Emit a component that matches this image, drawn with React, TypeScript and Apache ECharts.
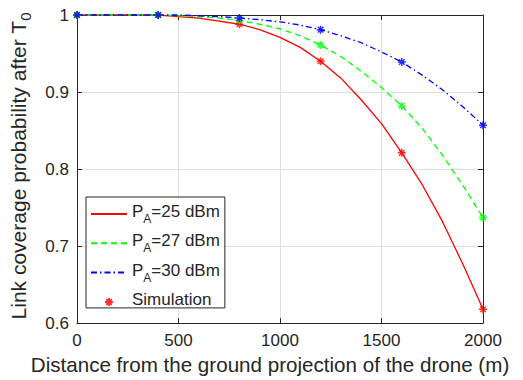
import React, { useEffect, useRef } from "react";
import * as echarts from "echarts";

const distances = [0, 100, 200, 300, 400, 500, 600, 700, 800, 900, 1000, 1100, 1200, 1300, 1400, 1500, 1600, 1700, 1800, 1900, 2000];
const pa25 = [1, 1, 1, 1, 0.9998, 0.998, 0.996, 0.992, 0.988, 0.981, 0.971, 0.958, 0.94, 0.918, 0.89, 0.859, 0.821, 0.78, 0.732, 0.677, 0.618];
const pa27 = [1, 1, 1, 1, 1, 0.999, 0.998, 0.996, 0.993, 0.988, 0.982, 0.973, 0.961, 0.946, 0.927, 0.906, 0.882, 0.853, 0.818, 0.779, 0.737];
const pa30 = [1, 1, 1, 1, 1, 1, 0.999, 0.998, 0.996, 0.994, 0.991, 0.987, 0.981, 0.973, 0.964, 0.952, 0.939, 0.922, 0.903, 0.881, 0.857];

const simDistances = [0, 400, 800, 1200, 1600, 2000];
const sim25 = [1, 1, 0.988, 0.94, 0.821, 0.618];
const sim27 = [1, 1, 0.993, 0.961, 0.882, 0.737];
const sim30 = [1, 1, 0.996, 0.981, 0.939, 0.857];

const xTicks = { min: 0, max: 2000, interval: 500 };
const yTicks = { min: 0.6, max: 1, interval: 0.1 };

const RED = "#ff0000";
const GREEN = "#00ff00";
const BLUE = "#0000ff";
const AXIS = "#262626";
const FONT = "'Liberation Sans', Arial, sans-serif";

const ASTERISK = "path://M0 5 L10 5 M5 0 L5 10 M1.5 1.5 L8.5 8.5 M8.5 1.5 L1.5 8.5";

const pairs = (xs: number[], ys: number[]) => xs.map((x, i) => [x, ys[i]]);

const subRich = {
  n: { fontSize: 17, fontFamily: FONT, color: AXIS, lineHeight: 22, verticalAlign: "top" },
  s: { fontSize: 12, fontFamily: FONT, color: AXIS, lineHeight: 8, verticalAlign: "bottom" },
};

export default function App() {
  const ref = useRef<HTMLDivElement>(null);
  useEffect(() => {
    if (!ref.current) return;
    const chart = echarts.init(ref.current, undefined, { renderer: "svg" });
    const lineSeries = (name: string, ys: number[], color: string, type: any) => ({
      type: "line",
      name,
      data: pairs(distances, ys),
      symbol: "none",
      clip: false,
      lineStyle: { color, width: 1.3, type },
      itemStyle: { color },
      z: 2,
    });
    const simSeries = (name: string, ys: number[], color: string) => ({
      type: "scatter",
      name,
      data: pairs(simDistances, ys),
      symbol: ASTERISK,
      symbolSize: 8,
      clip: false,
      itemStyle: { color, borderColor: color, borderWidth: 1.5 },
      z: 3,
    });
    const baseAxis = {
      axisLine: { show: true, onZero: false, lineStyle: { color: AXIS, width: 1 } },
      axisTick: { show: true, inside: true, length: 5, lineStyle: { color: AXIS } },
    };
    const hideSym = { opacity: 0 };
    chart.setOption({
      animation: false,
      backgroundColor: "#ffffff",
      grid: { left: 76, right: 40, top: 15, bottom: 56, containLabel: false },
      xAxis: [
        {
          type: "value",
          ...xTicks,
          ...baseAxis,
          axisLabel: {
            margin: 9,
            fontSize: 17,
            fontFamily: FONT,
            color: AXIS,
            formatter: (v: number) => String(v),
          },
          splitLine: { show: true, lineStyle: { color: "#dfdfdf", width: 1 } },
          name: "Distance from the ground projection of the drone (m)",
          nameLocation: "middle",
          nameGap: 24,
          nameTextStyle: { fontSize: 20.6, fontFamily: FONT, color: AXIS, padding: [0, 20, 0, 0] },
        },
        {
          type: "value",
          position: "top",
          ...xTicks,
          ...baseAxis,
          axisLabel: { show: false },
          splitLine: { show: false },
        },
      ],
      yAxis: [
        {
          type: "value",
          ...yTicks,
          ...baseAxis,
          axisLabel: { margin: 8, fontSize: 17, fontFamily: FONT, color: AXIS },
          splitLine: { show: true, lineStyle: { color: "#dfdfdf", width: 1 } },
          name: "{n|Link coverage probability after T}{s|0}",
          nameLocation: "middle",
          nameRotate: 90,
          nameGap: 44,
          nameTextStyle: {
            fontSize: 21,
            fontFamily: FONT,
            color: AXIS,
            padding: [0, 0, 0, 6],
            rich: {
              n: { fontSize: 21, fontFamily: FONT, color: AXIS, lineHeight: 25, verticalAlign: "top" },
              s: { fontSize: 15, fontFamily: FONT, color: AXIS, lineHeight: 8, verticalAlign: "bottom" },
            },
          },
        },
        {
          type: "value",
          position: "right",
          ...yTicks,
          ...baseAxis,
          axisLabel: { show: false },
          splitLine: { show: false },
        },
      ],
      legend: {
        orient: "vertical",
        left: 86,
        top: 197,
        backgroundColor: "#ffffff",
        borderColor: AXIS,
        borderWidth: 1,
        borderRadius: 0,
        padding: [6, 5, 0, 4],
        itemWidth: 36,
        itemHeight: 8,
        itemGap: 7.3,
        data: [
          { name: "PA25", itemStyle: hideSym },
          { name: "PA27", itemStyle: hideSym },
          { name: "PA30", itemStyle: hideSym },
          { name: "Simulation" },
        ],
        formatter: (name: string) => {
          if (name === "PA25") return "{n|P}{s|A}{n|=25 dBm}";
          if (name === "PA27") return "{n|P}{s|A}{n|=27 dBm}";
          if (name === "PA30") return "{n|P}{s|A}{n|=30 dBm}";
          return "{n|Simulation}";
        },
        textStyle: { fontSize: 17, fontFamily: FONT, color: AXIS, rich: subRich },
      },
      series: [
        lineSeries("PA25", pa25, RED, "solid"),
        lineSeries("PA27", pa27, GREEN, [6, 4]),
        lineSeries("PA30", pa30, BLUE, [6, 3, 1.5, 3]),
        simSeries("Simulation", sim25, RED),
        simSeries("Simulation27", sim27, GREEN),
        simSeries("Simulation30", sim30, BLUE),
      ],
    });
    return () => chart.dispose();
  }, []);
  return (
    <div
      ref={ref}
      style={{ position: "fixed", left: 0, top: 0, width: 523, height: 380, background: "#fff" }}
    />
  );
}
